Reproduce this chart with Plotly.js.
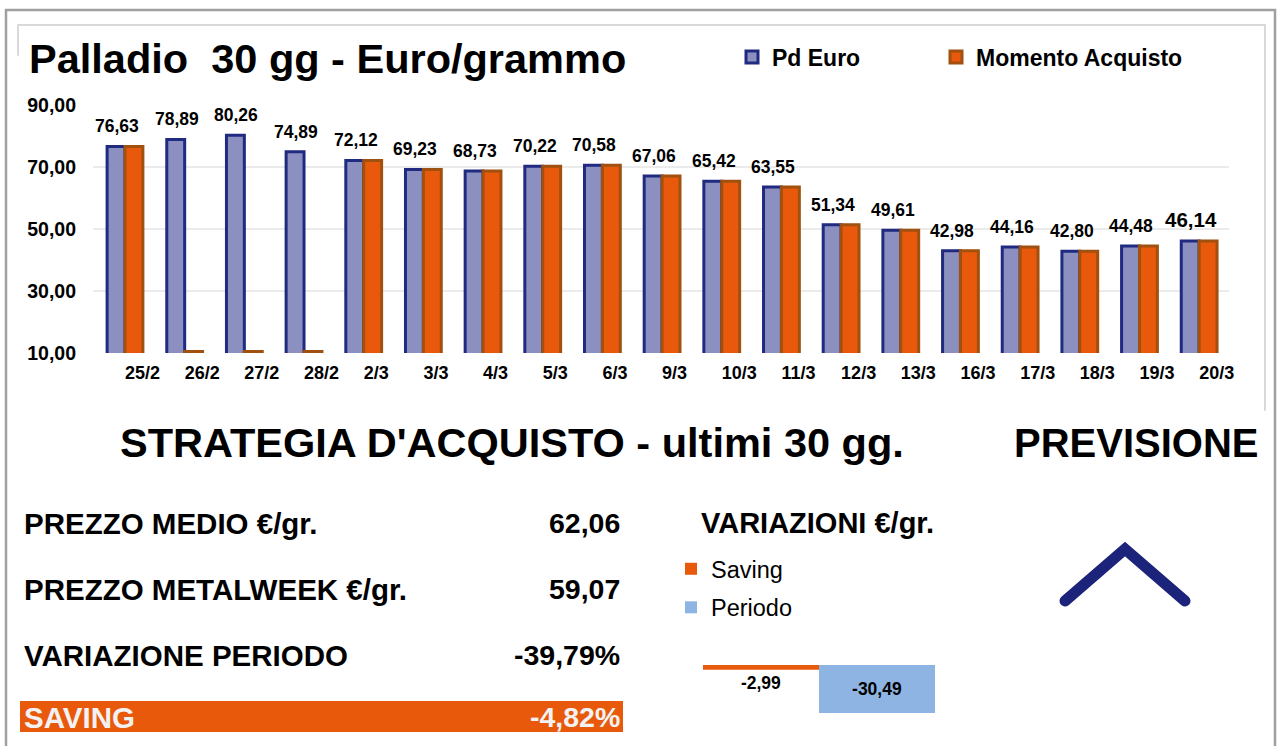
<!DOCTYPE html>
<html>
<head>
<meta charset="utf-8">
<script src="https://cdn.plot.ly/plotly-3.0.1.min.js"></script>
<style>
  html, body { margin: 0; padding: 0; background: #ffffff; }
  #chart { width: 1279px; height: 746px; }
  .shapelayer path { stroke-linecap: round; }
</style>
</head>
<body>
<div id="chart"></div>
<script>
// ---------- DATA ----------
const dates = ['25/2','26/2','27/2','28/2','2/3','3/3','4/3','5/3','6/3','9/3','10/3','11/3','12/3','13/3','16/3','17/3','18/3','19/3','20/3'];
const pdEuro = [76.63,78.89,80.26,74.89,72.12,69.23,68.73,70.22,70.58,67.06,65.42,63.55,51.34,49.61,42.98,44.16,42.80,44.48,46.14];
const momentoAcquisto = [76.63,10.5,10.5,10.5,72.12,69.23,68.73,70.22,70.58,67.06,65.42,63.55,51.34,49.61,42.98,44.16,42.80,44.48,46.14];
const yTicks = [10,30,50,70,90];

const variazioniCat = ['Saving','Periodo'];
const variazioniVal = [-2.99,-30.49];

const summaryLabels = ['PREZZO MEDIO €/gr.','PREZZO METALWEEK €/gr.','VARIAZIONE PERIODO','SAVING'];
const summaryValues = [62.06, 59.07, -39.79, -4.82];
const summaryIsPct = [false, false, true, true];

// ---------- HELPERS ----------
const W = 1279, H = 746;
const px = v => v / W;
const py = v => 1 - v / H;
const it = n => n.toFixed(2).replace('.', ',');
const FONT = 'Liberation Sans, Arial, Helvetica, sans-serif';

const NAVY = '#1f2a80', LAV = '#8c90c0', ORANGE = '#e8590c', BROWN = '#a0500f', LBLUE = '#8eb4e3';

// ---------- TRACES ----------
const traces = [
  {
    type: 'bar', name: 'Pd Euro', x: dates, y: pdEuro,
    xaxis: 'x', yaxis: 'y', legend: 'legend',
    marker: { color: LAV, line: { color: NAVY, width: 3 } },
    hoverinfo: 'skip'
  },
  {
    type: 'bar', name: 'Momento Acquisto', x: dates, y: momentoAcquisto,
    xaxis: 'x', yaxis: 'y', legend: 'legend3',
    marker: { color: ORANGE, line: { color: BROWN, width: 3 } },
    hoverinfo: 'skip'
  },
  {
    type: 'bar', name: variazioniCat[0], x: [variazioniCat[0]], y: [variazioniVal[0]],
    xaxis: 'x2', yaxis: 'y2', legend: 'legend2', legendgroup: 'g1',
    offsetgroup: 'v', width: 1,
    marker: { color: ORANGE },
    text: [it(variazioniVal[0])], textposition: 'outside', cliponaxis: false,
    constraintext: 'none',
    textfont: { family: FONT, size: 17.5, color: '#000', weight: 700 },
    hoverinfo: 'skip'
  },
  {
    type: 'bar', name: variazioniCat[1], x: [variazioniCat[1]], y: [variazioniVal[1]],
    xaxis: 'x2', yaxis: 'y2', legend: 'legend2', legendgroup: 'g2',
    offsetgroup: 'v', width: 1,
    marker: { color: LBLUE },
    text: [it(variazioniVal[1])], textposition: 'inside', insidetextanchor: 'middle',
    constraintext: 'none',
    textfont: { family: FONT, size: 17.5, color: '#000', weight: 700 },
    hoverinfo: 'skip'
  }
];

// ---------- ANNOTATIONS ----------
const ann = [];
// value labels above the Pd Euro bars, placed through the data axes
pdEuro.forEach((v, i) => {
  const last = i === pdEuro.length - 1;
  ann.push({
    xref: 'x', yref: 'y', x: dates[i], y: v, text: it(v),
    xanchor: 'center', yanchor: 'middle', xshift: -8, yshift: last ? 21 : 20,
    showarrow: false,
    font: { family: FONT, size: last ? 20.5 : 17.5, color: '#000', weight: 700 }
  });
});

function addText(text, x, y, size, anchor, color) {
  ann.push({
    xref: 'paper', yref: 'paper', x: px(x), y: py(y), text: text,
    xanchor: anchor, yanchor: 'middle', showarrow: false,
    font: { family: FONT, size: size, color: color || '#000', weight: 700 }
  });
}
addText('Palladio\u00a0 30 gg - Euro/grammo', 27, 58, 41.5, 'left');
addText("STRATEGIA D'ACQUISTO - ultimi 30 gg.", 118, 443, 41.5, 'left');
addText('PREVISIONE', 1012, 443, 40, 'left');
addText('VARIAZIONI €/gr.', 699, 523, 29, 'left');

const rowY = [523, 589, 655, 717];
summaryLabels.forEach((lab, i) => {
  const last = i === summaryLabels.length - 1;
  const col = last ? '#f2f2f2' : '#000';
  const val = it(summaryValues[i]) + (summaryIsPct[i] ? '%' : '');
  addText(lab, 22, rowY[i], 29.5, 'left', col);
  addText(val, 622, rowY[i], 28.5, 'right', col);
});

// ---------- SHAPES ----------
const shapes = [
  { type: 'rect', xref: 'paper', yref: 'paper', x0: px(6), x1: px(1275), y0: py(10), y1: py(770),
    line: { color: '#a0a0a0', width: 2.5 }, layer: 'below' },
  { type: 'line', xref: 'paper', yref: 'paper', x0: px(18), x1: px(1265), y0: py(25), y1: py(25),
    line: { color: '#d9d9d9', width: 2 }, layer: 'below' },
  { type: 'line', xref: 'paper', yref: 'paper', x0: px(18), x1: px(18), y0: py(25), y1: py(55),
    line: { color: '#d9d9d9', width: 2 }, layer: 'below' },
  { type: 'line', xref: 'paper', yref: 'paper', x0: px(1265), x1: px(1265), y0: py(25), y1: py(410),
    line: { color: '#d9d9d9', width: 2 }, layer: 'below' },
  { type: 'rect', xref: 'paper', yref: 'paper', x0: px(20), x1: px(623), y0: py(701), y1: py(732),
    fillcolor: ORANGE, line: { width: 0 }, layer: 'below' },
  { type: 'path', xref: 'paper', yref: 'paper',
    path: 'M' + px(1065) + ',' + py(601) + ' L' + px(1125) + ',' + py(549) + ' L' + px(1185) + ',' + py(601),
    line: { color: '#1b247a', width: 11 }, layer: 'above' }
];

// ---------- LAYOUT ----------
const legendFont = { family: FONT, size: 23, color: '#000', weight: 700 };
const layout = {
  width: W, height: H,
  margin: { l: 0, r: 0, t: 0, b: 0, pad: 0 },
  paper_bgcolor: '#ffffff', plot_bgcolor: 'rgba(0,0,0,0)',
  separators: ',.',
  font: { family: FONT, color: '#000' },
  barmode: 'group', bargap: 0.4, bargroupgap: 0,
  showlegend: true,
  xaxis: {
    domain: [px(93), px(1229)], type: 'category',
    showgrid: false, zeroline: false, showline: false, ticks: '',
    ticklabelposition: 'outside right', ticklabelstandoff: 7,
    tickfont: { family: FONT, size: 18, color: '#000', weight: 700 },
    fixedrange: true
  },
  yaxis: {
    domain: [py(353), py(105)], range: [10, 90],
    tickvals: yTicks, tickformat: '.2f',
    showgrid: true, gridcolor: '#ebebeb', gridwidth: 2,
    zeroline: false, showline: false, ticks: '',
    ticklabelstandoff: 16,
    tickfont: { family: FONT, size: 19.5, color: '#000', weight: 700 },
    fixedrange: true
  },
  xaxis2: {
    domain: [px(703), px(935)], anchor: 'y2', type: 'category',
    visible: false, fixedrange: true
  },
  yaxis2: {
    domain: [py(715.4), py(665)], anchor: 'x2', range: [-32, 0],
    visible: false, fixedrange: true
  },
  legend: {
    orientation: 'h', x: px(732), xanchor: 'left', y: py(57), yanchor: 'middle',
    bgcolor: 'rgba(0,0,0,0)', borderwidth: 0, font: legendFont
  },
  legend3: {
    orientation: 'h', x: px(936), xanchor: 'left', y: py(57), yanchor: 'middle',
    bgcolor: 'rgba(0,0,0,0)', borderwidth: 0, font: legendFont
  },
  legend2: {
    orientation: 'v', x: px(671), xanchor: 'left', y: py(547), yanchor: 'top',
    bgcolor: 'rgba(0,0,0,0)', borderwidth: 0, tracegroupgap: 5,
    font: { family: FONT, size: 23.5, color: '#000', weight: 400 }
  },
  annotations: ann,
  shapes: shapes
};

Plotly.newPlot('chart', traces, layout, { staticPlot: true, displayModeBar: false });
</script>
</body>
</html>
